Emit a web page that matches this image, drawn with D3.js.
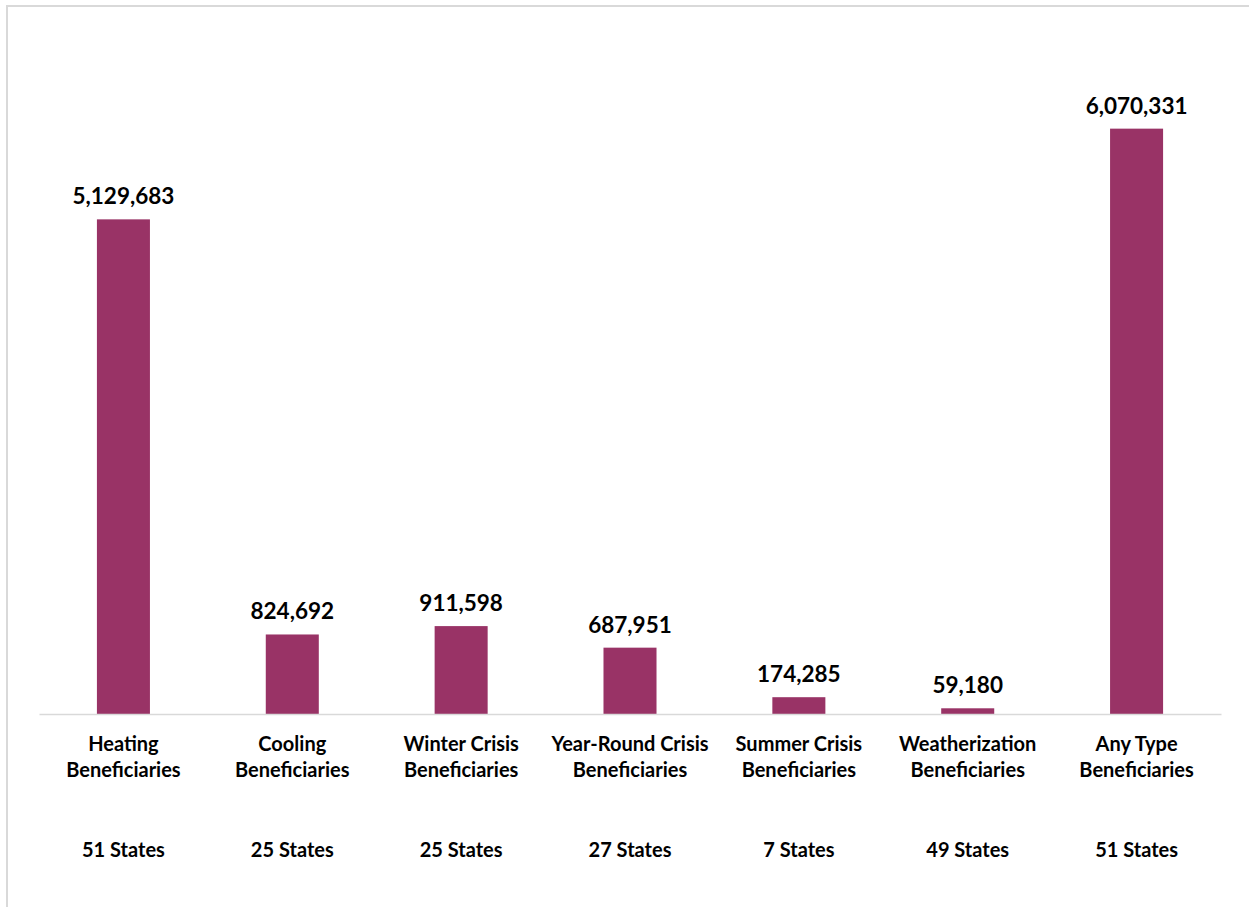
<!DOCTYPE html>
<html lang="en">
<head>
<meta charset="UTF-8">
<title>Beneficiaries by Assistance Type</title>
<script src="https://d3js.org/d3.v7.min.js"></script>
<style>
    body {
        margin: 0;
        background: #ffffff;
        font-family: Lato, 'Open Sans', sans-serif;
    }
    svg { display: block; }
</style>
</head>
<body>
<svg id="chart" width="1249" height="907"></svg>
<script>
const categories = [
    "Heating Beneficiaries",
    "Cooling Beneficiaries",
    "Winter Crisis Beneficiaries",
    "Year-Round Crisis Beneficiaries",
    "Summer Crisis Beneficiaries",
    "Weatherization Beneficiaries",
    "Any Type Beneficiaries"
];
const beneficiaries = [5129683, 824692, 911598, 687951, 174285, 59180, 6070331];
const states = ["51 States", "25 States", "25 States", "27 States", "7 States", "49 States", "51 States"];

const svg = d3.select("#chart");

// outer frame (only top and left edges show in the picture)
svg.append("path")
    .attr("d", "M7,907 V6 H1249")
    .attr("fill", "none")
    .attr("stroke", "#d9d9d9")
    .attr("stroke-width", 2);

const plot = { left: 39, right: 1221, top: 39, bottom: 714 };

const x = d3.scaleBand()
    .domain(categories)
    .range([plot.left, plot.right])
    .paddingInner(0.686)
    .paddingOuter(0.343);

const y = d3.scaleLinear()
    .domain([0, 7000000])
    .range([plot.bottom, plot.top]);

const data = categories.map((c, i) => ({ cat: c, value: beneficiaries[i], states: states[i] }));

svg.append("g")
    .selectAll("rect")
    .data(data)
    .join("rect")
    .attr("x", d => x(d.cat))
    .attr("y", d => y(d.value))
    .attr("width", x.bandwidth())
    .attr("height", d => y(0) - y(d.value))
    .attr("fill", "#993366");

// value labels
svg.append("g")
    .selectAll("text")
    .data(data)
    .join("text")
    .attr("x", d => x(d.cat) + x.bandwidth() / 2)
    .attr("y", d => y(d.value) - 15)
    .attr("text-anchor", "middle")
    .attr("font-size", 22.5)
    .attr("font-weight", "bold")
    .attr("fill", "#000")
    .text(d => d3.format(",")(d.value));

// x axis with baseline
const axis = svg.append("g")
    .attr("transform", `translate(0,${plot.bottom})`)
    .call(d3.axisBottom(x).tickSize(0).tickSizeOuter(0).tickFormat(""));

axis.select(".domain")
    .attr("stroke", "#d9d9d9")
    .attr("stroke-width", 1.5);

axis.selectAll(".tick text").remove();

axis.selectAll(".tick").each(function(d, i) {
    const cut = d.lastIndexOf(" ");
    const t = d3.select(this).append("text")
        .attr("text-anchor", "middle")
        .attr("font-size", 20)
        .attr("font-weight", "bold")
        .attr("fill", "#000")
        .attr("font-family", "Lato, 'Open Sans', sans-serif");
    t.append("tspan").attr("x", 0).attr("y", 37).text(d.slice(0, cut));
    t.append("tspan").attr("x", 0).attr("y", 63).text(d.slice(cut + 1));

    d3.select(this).append("text")
        .attr("text-anchor", "middle")
        .attr("y", 143)
        .attr("font-size", 20)
        .attr("font-weight", "bold")
        .attr("fill", "#000")
        .attr("font-family", "Lato, 'Open Sans', sans-serif")
        .text(states[i]);
});
</script>
</body>
</html>
